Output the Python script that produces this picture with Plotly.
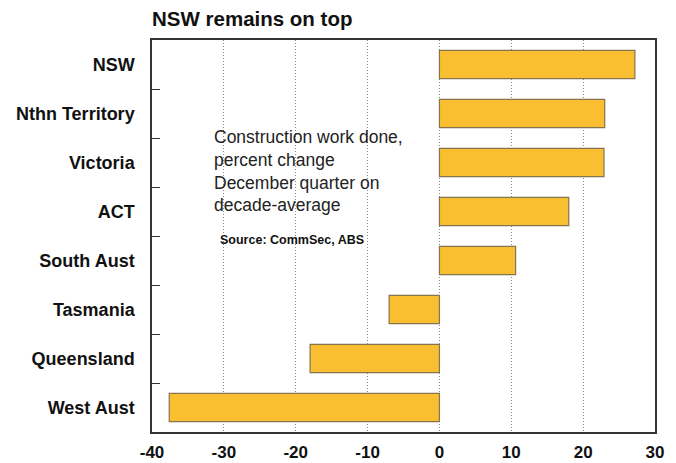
import plotly.graph_objects as go

categories = ["NSW", "Nthn Territory", "Victoria", "ACT", "South Aust", "Tasmania", "Queensland", "West Aust"]
values = [27.2, 23.0, 22.9, 18.0, 10.6, -7.0, -18.0, -37.6]
x_ticks = [-40, -30, -20, -10, 0, 10, 20, 30]

fig = go.Figure()
fig.add_trace(go.Bar(
    y=categories, x=values, orientation="h",
    marker=dict(color="#F9BF31", line=dict(color="#85754F", width=1.2)),
    width=0.58,
))

fig.update_layout(
    width=676, height=463,
    margin=dict(l=152, r=21, t=40, b=31),
    plot_bgcolor="white", paper_bgcolor="white",
    showlegend=False,
    font=dict(family="Liberation Sans, Arial, sans-serif", color="#111"),
    title=dict(text="<b>NSW remains on top</b>", x=152/676, xanchor="left",
               y=1 - 19/463, yanchor="middle",
               font=dict(size=20.5, color="#111")),
)
fig.update_xaxes(
    range=[-40, 30], tickvals=x_ticks, ticktext=[str(v) for v in x_ticks],
    showgrid=True, gridcolor="#8a8a8a", griddash="1px,2px", gridwidth=1,
    zeroline=False, showline=True, linecolor="#333", linewidth=1.5, mirror=True,
    ticks="", tickfont=dict(size=17, color="#111", weight="bold"),
    automargin=False, ticklabelstandoff=4,
)
fig.update_yaxes(
    categoryorder="array", categoryarray=categories, autorange="reversed",
    showgrid=False, zeroline=False, showline=True, linecolor="#333",
    linewidth=1.5, mirror=True,
    ticks="inside", ticklen=8, tickcolor="#333", tickson="boundaries",
    ticklabelstandoff=12, automargin=False,
    tickfont=dict(size=18, color="#111", weight="bold"),
)

fig.add_annotation(
    text="Construction work done,<br>percent change<br>December quarter on<br>decade-average",
    xref="paper", yref="paper", x=(212-152)/503, y=1 - (125-40)/392,
    xanchor="left", yanchor="top", align="left", showarrow=False,
    font=dict(size=17.5, color="#222"),
)
fig.add_annotation(
    text="<b>Source: CommSec, ABS</b>",
    xref="paper", yref="paper", x=(218-152)/503, y=1 - (240-40)/392,
    xanchor="left", yanchor="middle", align="left", showarrow=False,
    font=dict(size=12.5, color="#111"),
)

fig.write_html("out.html", config={"displayModeBar": False},
               post_script="document.body.style.margin='0';document.body.style.overflow='hidden';")
